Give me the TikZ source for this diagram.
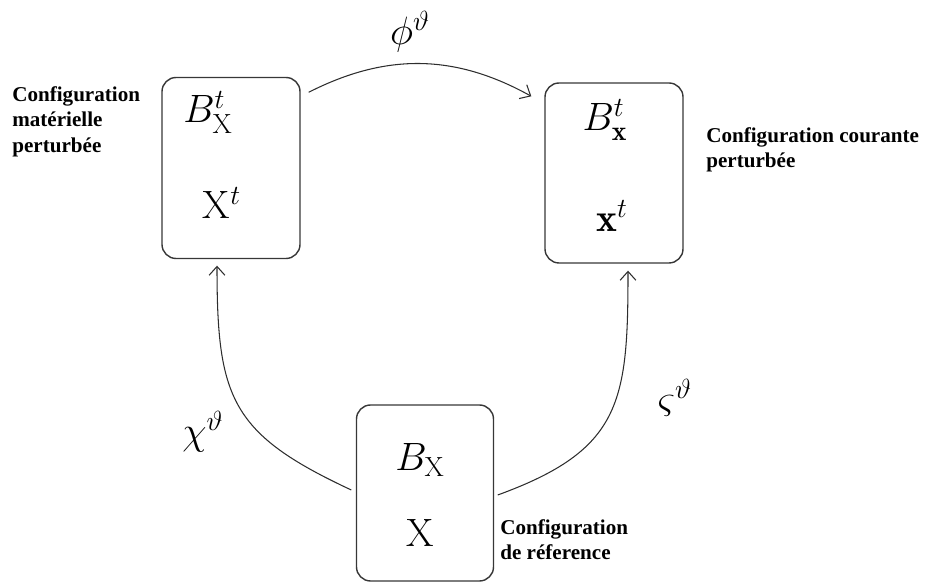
\RequirePackage{fix-cm}
\documentclass[tikz,border=0pt]{standalone}
\usepackage{amsmath,amssymb}
\usepackage{fontspec}
\newfontfamily\lblfont{Liberation Serif}[BoldFont={Liberation Serif Bold}]
\usetikzlibrary{positioning,arrows.meta}
\definecolor{framegray}{RGB}{55,55,55}
\definecolor{arrowgray}{RGB}{45,45,45}

\begin{document}
\begin{tikzpicture}[
  cfgbox/.style={draw=framegray, line width=0.8pt, rounded corners=8pt,
    minimum width=2.76cm, minimum height=3.62cm, inner sep=0pt},
  mathlbl/.style={inner sep=0pt, font=\fontsize{22.5}{27}\selectfont},
  cfglbl/.style={inner sep=0pt, anchor=north west, align=left,
    font=\fontsize{12}{14.5}\lblfont\bfseries},
  maparrow/.style={arrowgray, line width=0.6pt,
    -{Straight Barb[length=5pt,width=9pt]}},
]
  \useasboundingbox (0,0) rectangle (18.54,11.7);

  % === CONFIGURATION BOXES ===
  \node[cfgbox] (matL) at (4.62, 8.34) {};
  \node[cfgbox, minimum height=3.6cm] (curR) at (12.28, 8.24) {};
  \node[cfgbox, minimum width=2.74cm, minimum height=3.52cm] (refB) at (8.5, 1.84) {};

  % Box contents
  \node[mathlbl] (BL) at (4.16, 9.45) {$B^t_{\mathrm{X}}$};
  \node[mathlbl] (XL) at (4.44, 7.64) {$\mathrm{X}^t$};
  \node[mathlbl] (BR) at (12.1, 9.3) {$B^t_{\mathbf{x}}$};
  \node[mathlbl] (xR) at (12.24, 7.38) {$\mathbf{x}^t$};
  \node[mathlbl] (BB) at (8.4, 2.5) {$B_{\mathrm{X}}$};
  \node[mathlbl] (XB) at (8.4, 1.04) {$\mathrm{X}$};

  % Box captions
  \node[cfglbl] (lblL) at (0.24, 9.98) {Configuration\\ matérielle\\ perturbée};
  \node[cfglbl] (lblR) at (14.12, 9.16) {Configuration courante\\ perturbée};
  \node[cfglbl] (lblB) at (10.0, 1.32) {Configuration\\ de réference};

  % === MAPPINGS ===
  \coordinate (phiS) at ([xshift=0.16cm, yshift=-0.31cm]matL.north east);
  \coordinate (phiE) at ([xshift=-0.26cm, yshift=-0.28cm]curR.north west);
  \draw[maparrow] (phiS) to[bend left=28] (phiE);

  \coordinate (chiS) at ([xshift=-0.09cm, yshift=0.06cm]refB.west);
  \coordinate (chiE) at ([xshift=-0.28cm, yshift=-0.13cm]matL.south);
  \draw[maparrow] (chiS) to[out=155, in=-90, looseness=1.3] (chiE);

  \coordinate (sigS) at ([xshift=0.07cm, yshift=-0.04cm]refB.east);
  \coordinate (sigE) at ([xshift=0.28cm, yshift=-0.14cm]curR.south);
  \draw[maparrow] (sigS) to[out=20, in=-90, looseness=1.3] (sigE);

  % Mapping labels
  \node[mathlbl] (phi) at (8.2, 11.06) {$\phi^{\vartheta}$};
  \node[mathlbl] (chi) at (4.06, 3.06) {$\chi^{\vartheta}$};
  \node[mathlbl] (vsig) at (13.5, 3.74) {$\varsigma^{\vartheta}$};
\end{tikzpicture}
\end{document}
